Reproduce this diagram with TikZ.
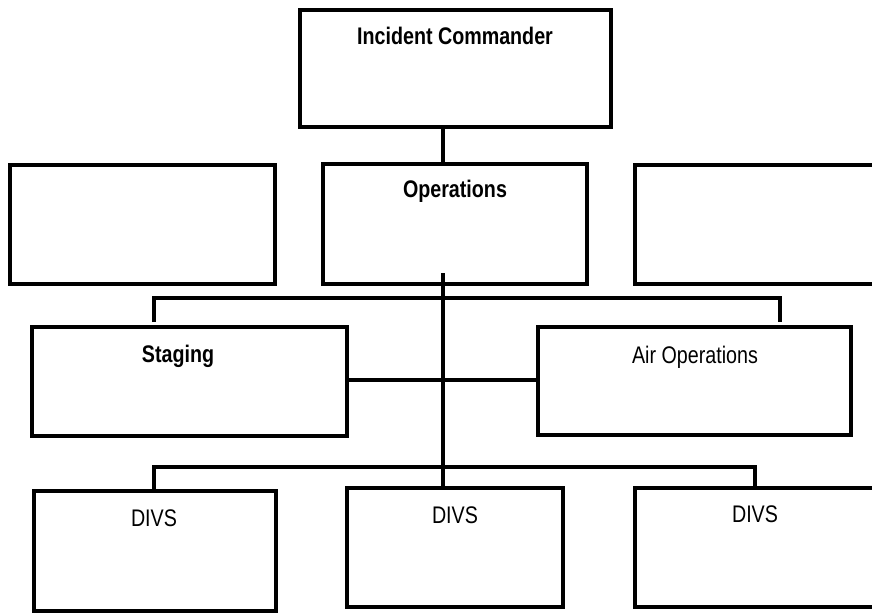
\documentclass[tikz,border=0pt]{standalone}
\usepackage{fontspec}
\setmainfont{Liberation Sans}[FakeStretch=0.82]
\begin{document}
\begin{tikzpicture}[x=1pt,y=-1pt,
  box/.style={draw=black, line width=3.8pt, fill=white, inner sep=0pt},
  conn/.style={draw=black, line width=3.2pt},
  lbl/.style={inner sep=0pt, anchor=base, font=\fontsize{24}{28}\selectfont},
  blbl/.style={lbl, font=\fontsize{24}{28}\selectfont\bfseries}]
\useasboundingbox (0,0) rectangle (872,613);
\fill[white] (0,0) rectangle (872,613);
\clip (0,0) rectangle (872,613);
% boxes
\node[box, minimum width=311pt, minimum height=117pt] (ic) at (455.5,68.5) {};
\node[box, minimum width=265pt, minimum height=119pt] (leftbox) at (142.5,224.5) {};
\node[box, minimum width=264pt, minimum height=120pt] (ops) at (455,224) {};
\node[box, minimum width=265pt, minimum height=119pt] (rightbox) at (767.5,224.5) {};
\node[box, minimum width=315pt, minimum height=109pt] (staging) at (189.5,381.5) {};
\node[box, minimum width=313pt, minimum height=108pt] (airops) at (694.5,381) {};
\node[box, minimum width=242pt, minimum height=120pt] (divsa) at (155,551) {};
\node[box, minimum width=216pt, minimum height=119pt] (divsb) at (455,547.5) {};
\node[box, minimum width=240pt, minimum height=119pt] (divsc) at (755,547.5) {};
% labels
\node[blbl] (ict) at (455,44) {Incident Commander};
\node[blbl] (opst) at (455,197) {Operations};
\node[blbl] (stgt) at (178,362) {Staging};
\node[lbl] (airt) at (695,363) {Air Operations};
\node[lbl] (dat) at (154,526) {DIVS};
\node[lbl] (dbt) at (455,523) {DIVS};
\node[lbl] (dct) at (755,522) {DIVS};
% connector coordinates
\coordinate (spine) at (443,0);
\coordinate (spinetop) at (443,273);
\coordinate (busa) at (0,298);
\coordinate (busb) at (0,467);
\coordinate (stgdrop) at (154,322);
\coordinate (airdrop) at (780,322);
\coordinate (midline) at (0,380);
% connectors
\draw[conn] (ic.south -| spine) -- (ops.north -| spine);
\draw[conn] (spinetop) -- (divsb.north -| spine);
\draw[conn] (stgdrop) -- (stgdrop |- busa) -- (airdrop |- busa) -- (airdrop);
\draw[conn] (staging.east |- midline) -- (airops.west |- midline);
\draw[conn] (divsa.north -| dat) -- (dat |- busb) -- (dct |- busb) -- (divsc.north -| dct);
\end{tikzpicture}
\end{document}
